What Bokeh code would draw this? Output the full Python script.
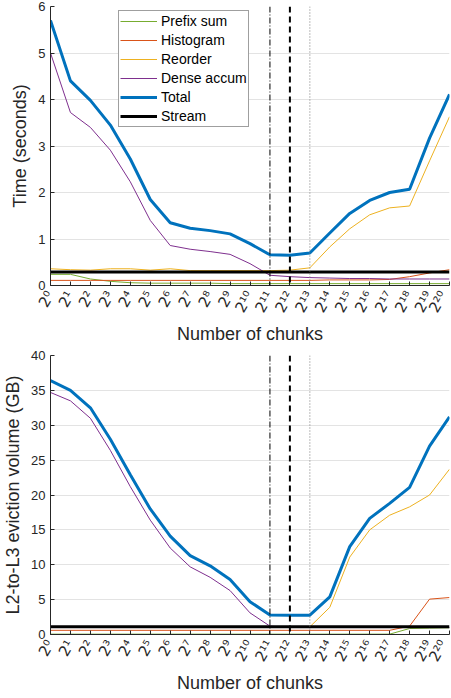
import math
from bokeh.plotting import figure
from bokeh.layouts import column
from bokeh.models import Range1d, FixedTicker, Span, Legend, LegendItem
from bokeh.embed import file_html
from bokeh.resources import INLINE

# ---------------- data ----------------
exponents = list(range(21))
tick_labels = ["2⁰", "2¹", "2²", "2³", "2⁴", "2⁵", "2⁶", "2⁷", "2⁸", "2⁹", "2¹⁰",
               "2¹¹", "2¹²", "2¹³", "2¹⁴", "2¹⁵", "2¹⁶", "2¹⁷", "2¹⁸", "2¹⁹", "2²⁰"]
series_names = ["Prefix sum", "Histogram", "Reorder", "Dense accum", "Total", "Stream"]

# Time (seconds)
prefix_time = [0.24, 0.24, 0.14, 0.09, 0.06, 0.05, 0.05, 0.05, 0.05, 0.04, 0.04,
               0.04, 0.04, 0.04, 0.04, 0.04, 0.04, 0.04, 0.04, 0.04, 0.04]
hist_time = [0.11, 0.11, 0.11, 0.11, 0.11, 0.11, 0.11, 0.11, 0.11, 0.11, 0.11,
             0.11, 0.11, 0.11, 0.12, 0.12, 0.12, 0.13, 0.19, 0.27, 0.34]
reorder_time = [0.36, 0.34, 0.33, 0.36, 0.36, 0.33, 0.36, 0.32, 0.32, 0.32, 0.32,
                0.32, 0.33, 0.38, 0.83, 1.22, 1.52, 1.67, 1.71, 2.68, 3.63]
dense_time = [5.0, 3.72, 3.4, 2.91, 2.23, 1.4, 0.86, 0.78, 0.73, 0.67, 0.47,
              0.22, 0.19, 0.17, 0.16, 0.15, 0.15, 0.14, 0.14, 0.14, 0.14]
total_time = [5.7, 4.4, 3.98, 3.45, 2.72, 1.85, 1.35, 1.23, 1.18, 1.11, 0.9,
              0.66, 0.65, 0.70, 1.13, 1.55, 1.83, 2.0, 2.07, 3.17, 4.11]
stream_time = [0.29] * 21

# L2-to-L3 eviction volume (GB)
prefix_vol = [0.05, 0.05, 0.05, 0.05, 0.05, 0.05, 0.05, 0.05, 0.05, 0.05, 0.05,
              0.05, 0.05, 0.05, 0.05, 0.05, 0.05, 0.05, 0.86, 0.92, 0.97]
hist_vol = [0.6, 0.6, 0.6, 0.6, 0.6, 0.6, 0.6, 0.6, 0.6, 0.6, 0.6,
            0.6, 0.6, 0.6, 0.6, 0.6, 0.6, 0.6, 1.2, 5.07, 5.3]
reorder_vol = [1.05, 1.05, 1.05, 1.05, 1.05, 1.05, 1.05, 1.05, 1.05, 1.05, 1.05,
               1.05, 1.05, 1.1, 3.9, 11.1, 15.0, 17.1, 18.3, 20.0, 23.7]
dense_vol = [34.7, 33.5, 31.0, 26.4, 21.2, 16.4, 12.4, 9.7, 8.2, 6.3, 3.1,
             1.2, 1.0, 1.0, 1.0, 1.0, 1.0, 1.0, 1.0, 1.0, 1.0]
total_vol = [36.4, 35.0, 32.5, 28.0, 22.9, 18.0, 14.1, 11.3, 9.85, 7.9, 4.7,
             2.78, 2.77, 2.77, 5.4, 12.6, 16.65, 18.8, 21.1, 27.0, 31.2]
stream_vol = [1.1] * 21

marker_exponents = [11, 12, 13]
time_ticks = [0, 1, 2, 3, 4, 5, 6]
vol_ticks = [0, 5, 10, 15, 20, 25, 30, 35, 40]

# ---------------- styling ----------------
colors = ["#77AC30", "#D95319", "#EDB120", "#7E2F8E", "#0072BD", "#000000"]
widths = [1, 1, 1, 1, 3, 3]
FONT = "Liberation Sans"
AX = "#262626"


def make_fig(height, ymax, yticks, ylabel, border_left, border_top, border_bottom):
    p = figure(width=451, height=height, x_range=Range1d(0, 20), y_range=Range1d(0, ymax),
               output_backend="svg", toolbar_location=None,
               min_border_left=border_left, min_border_right=2,
               min_border_top=border_top, min_border_bottom=border_bottom)
    p.outline_line_color = None
    p.background_fill_color = "white"
    p.border_fill_color = "white"
    p.xgrid.visible = False
    p.ygrid.grid_line_color = "#e3e3e3"
    p.ygrid.grid_line_width = 1
    p.ygrid.ticker = FixedTicker(ticks=yticks)

    xa = p.xaxis[0]
    xa.ticker = FixedTicker(ticks=exponents)
    xa.major_label_overrides = {e: lbl for e, lbl in zip(exponents, tick_labels)}
    xa.major_label_orientation = math.pi / 3
    xa.axis_label = "Number of chunks"
    ya = p.yaxis[0]
    ya.ticker = FixedTicker(ticks=yticks)
    ya.axis_label = ylabel
    for ax in (xa, ya):
        ax.axis_line_color = AX
        ax.axis_line_width = 1
        ax.major_tick_line_color = AX
        ax.major_tick_in = 4
        ax.major_tick_out = 0
        ax.minor_tick_line_color = None
        ax.major_label_text_font = FONT
        ax.major_label_text_font_size = "13px"
        ax.major_label_text_color = AX
        ax.axis_label_text_font = FONT
        ax.axis_label_text_font_size = "18px"
        ax.axis_label_text_font_style = "normal"
        ax.axis_label_text_color = AX
    xa.major_label_text_font = "DejaVu Sans"
    xa.major_label_text_font_size = "15px"
    xa.major_label_standoff = 7
    xa.axis_label_standoff = 1
    ya.major_label_standoff = 5
    ya.axis_label_standoff = 5
    return p


def add_series(p, ys_list):
    rends = []
    for ys, c, w in zip(ys_list, colors, widths):
        r = p.line(exponents, ys, line_color=c, line_width=w)
        rends.append(r)
    p.add_layout(Span(location=marker_exponents[0], dimension="height", line_color="black",
                      line_width=1, line_dash="6 2 1 2"))
    p.add_layout(Span(location=marker_exponents[1], dimension="height", line_color="black",
                      line_width=2, line_dash="6 4"))
    p.add_layout(Span(location=marker_exponents[2], dimension="height", line_color="#777777",
                      line_width=1, line_dash="1 2"))
    return rends


p1 = make_fig(348, 6, time_ticks, "Time (seconds)", 43, 6, 63)
r1 = add_series(p1, [prefix_time, hist_time, reorder_time, dense_time, total_time, stream_time])

legend = Legend(items=[LegendItem(label=n, renderers=[r]) for n, r in zip(series_names, r1)],
                location=(68, 158))
legend.margin = 0
legend.padding = 1
legend.spacing = 1
legend.glyph_width = 37
legend.glyph_height = 18
legend.label_height = 18
legend.label_standoff = 4
legend.label_text_font = FONT
legend.label_text_font_size = "14px"
legend.label_text_color = "#000000"
legend.border_line_color = "#404040"
legend.border_line_width = 1
legend.background_fill_color = "white"
legend.background_fill_alpha = 1
p1.add_layout(legend)

p2 = make_fig(350, 40, vol_ticks, "L2-to-L3 eviction volume (GB)", 50, 7, 64)
add_series(p2, [prefix_vol, hist_vol, reorder_vol, dense_vol, total_vol, stream_vol])

layout = column(p1, p2, spacing=0)
open("out.html", "w").write(file_html(layout, INLINE))
